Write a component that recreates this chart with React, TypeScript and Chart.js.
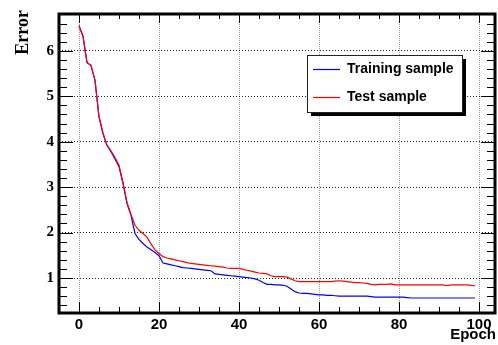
import React, { useEffect, useRef } from "react";
import { Chart, registerables } from "chart.js";

Chart.register(...registerables);

const epochs: number[] = Array.from({ length: 100 }, (_, i) => i);

const trainingError: number[] = [
  6.56, 6.32, 5.74, 5.68, 5.35, 4.55, 4.18, 3.92, 3.78, 3.62,
  3.45, 3.08, 2.64, 2.38, 1.98, 1.85, 1.76, 1.68, 1.62, 1.56,
  1.49, 1.33, 1.31, 1.29, 1.27, 1.25, 1.23, 1.22, 1.21, 1.20,
  1.19, 1.18, 1.17, 1.16, 1.09, 1.08, 1.07, 1.06, 1.05, 1.04,
  1.03, 1.02, 1.01, 1.00, 0.98, 0.95, 0.90, 0.86, 0.86, 0.85,
  0.85, 0.84, 0.82, 0.76, 0.70, 0.67, 0.66, 0.66, 0.65, 0.64,
  0.63, 0.63, 0.62, 0.62, 0.61, 0.60, 0.60, 0.60, 0.60, 0.60,
  0.60, 0.60, 0.60, 0.59, 0.58, 0.58, 0.58, 0.58, 0.58, 0.58,
  0.58, 0.58, 0.57, 0.56, 0.56, 0.56, 0.56, 0.56, 0.56, 0.56,
  0.56, 0.56, 0.56, 0.56, 0.56, 0.56, 0.56, 0.56, 0.56, 0.56,
];

const testError: number[] = [
  6.54, 6.32, 5.74, 5.68, 5.35, 4.55, 4.18, 3.92, 3.80, 3.65,
  3.48, 3.10, 2.66, 2.40, 2.16, 2.05, 1.98, 1.90, 1.75, 1.62,
  1.54, 1.47, 1.44, 1.42, 1.40, 1.38, 1.36, 1.34, 1.32, 1.31,
  1.30, 1.29, 1.28, 1.27, 1.26, 1.25, 1.24, 1.22, 1.21, 1.21,
  1.21, 1.19, 1.17, 1.15, 1.13, 1.11, 1.10, 1.09, 1.05, 1.03,
  1.03, 1.03, 1.02, 0.98, 0.94, 0.92, 0.92, 0.92, 0.92, 0.92,
  0.92, 0.92, 0.92, 0.92, 0.93, 0.94, 0.93, 0.92, 0.91, 0.90,
  0.90, 0.89, 0.88, 0.86, 0.85, 0.86, 0.86, 0.86, 0.87, 0.85,
  0.85, 0.85, 0.85, 0.85, 0.85, 0.85, 0.85, 0.85, 0.85, 0.85,
  0.85, 0.85, 0.83, 0.85, 0.85, 0.85, 0.85, 0.85, 0.84, 0.83,
];

const xTickLabels: number[] = [0, 20, 40, 60, 80, 100];
const yTickLabels: number[] = [1, 2, 3, 4, 5, 6];
const seriesNames: string[] = ["Training sample", "Test sample"];
const xTitle = "Epoch";
const yTitle = "Error";

const rootStylePlugin = {
  id: "rootStyle",
  afterDraw(chart: any) {
    const { ctx, chartArea, scales } = chart;
    const xs = scales.x;
    const ys = scales.y;
    const { left, right, top, bottom } = chartArea;
    ctx.save();
    ctx.strokeStyle = "#000";
    ctx.lineWidth = 1;
    // x ticks (inward, bottom and top)
    for (let v = 0; v <= 100; v += 5) {
      const px = Math.round(xs.getPixelForValue(v)) + 0.5;
      const major = v % 20 === 0;
      const lb = major ? 11 : 6;
      const lt = major ? 9 : 5;
      ctx.beginPath();
      ctx.moveTo(px, bottom);
      ctx.lineTo(px, bottom - lb);
      ctx.moveTo(px, top);
      ctx.lineTo(px, top + lt);
      ctx.stroke();
    }
    // y ticks (inward, left and right)
    for (let k = 2; k <= 34; k++) {
      const v = k / 5;
      const py = Math.round(ys.getPixelForValue(v)) + 0.5;
      if (py < top || py > bottom) continue;
      const major = k % 5 === 0;
      const l = major ? 14 : 8;
      ctx.beginPath();
      ctx.moveTo(left, py);
      ctx.lineTo(left + l, py);
      ctx.moveTo(right, py);
      ctx.lineTo(right - l, py);
      ctx.stroke();
    }
    // frame
    ctx.lineWidth = 3;
    ctx.strokeRect(left, top, right - left, bottom - top);

    // legend
    const bx = 307, by = 55, bw = 155, bh = 57;
    ctx.fillStyle = "#000";
    ctx.fillRect(bx + 4, by + 4, bw, bh);
    ctx.fillStyle = "#fff";
    ctx.fillRect(bx, by, bw, bh);
    ctx.lineWidth = 1;
    ctx.strokeStyle = "#222";
    ctx.strokeRect(bx + 0.5, by + 0.5, bw, bh);
    const rows = [69, 97];
    chart.data.datasets.forEach((ds: any, i: number) => {
      const y = rows[i] + 0.5;
      ctx.strokeStyle = ds.borderColor;
      ctx.lineWidth = 1.2;
      ctx.beginPath();
      ctx.moveTo(313, y);
      ctx.lineTo(340, y);
      ctx.stroke();
      ctx.fillStyle = "#000";
      ctx.font = 'bold 14px "Liberation Sans", Arial, sans-serif';
      ctx.textAlign = "left";
      ctx.textBaseline = "middle";
      ctx.fillText(ds.label, 347, rows[i] + 0.5);
    });

    // axis titles
    ctx.fillStyle = "#000";
    ctx.font = 'bold 15px "Liberation Sans", Arial, sans-serif';
    ctx.textAlign = "right";
    ctx.textBaseline = "alphabetic";
    ctx.fillText(xTitle, 496, 339);

    ctx.save();
    ctx.translate(28, 10);
    ctx.rotate(-Math.PI / 2);
    ctx.font = 'bold 18px "Liberation Serif", "Times New Roman", serif';
    ctx.textAlign = "right";
    ctx.textBaseline = "alphabetic";
    ctx.fillText(yTitle, 0, 0);
    ctx.restore();

    ctx.restore();
  },
};

export default function App() {
  const canvasRef = useRef<HTMLCanvasElement | null>(null);

  useEffect(() => {
    const canvas = canvasRef.current;
    if (!canvas) return;
    const chart = new Chart(canvas, {
      type: "line",
      data: {
        datasets: [
          {
            label: seriesNames[0],
            data: epochs.map((e, i) => ({ x: e, y: trainingError[i] })),
            borderColor: "#0000ff",
            borderWidth: 1.2,
            pointRadius: 0,
            tension: 0,
            fill: false,
            order: 1,
          },
          {
            label: seriesNames[1],
            data: epochs.map((e, i) => ({ x: e, y: testError[i] })),
            borderColor: "#ff0000",
            borderWidth: 1.2,
            pointRadius: 0,
            tension: 0,
            fill: false,
            order: 0,
          },
        ],
      },
      plugins: [rootStylePlugin],
      options: {
        animation: false,
        responsive: false,
        maintainAspectRatio: false,
        layout: { padding: { top: 11, right: 3, left: 0, bottom: 0 } },
        plugins: {
          legend: { display: false },
          tooltip: { enabled: false },
        },
        scales: {
          x: {
            type: "linear",
            min: -5,
            max: 104,
            afterBuildTicks: (scale: any) => {
              scale.ticks = xTickLabels.map((v) => ({ value: v }));
            },
            afterFit: (scale: any) => {
              scale.height = 32;
            },
            ticks: {
              color: "#000",
              padding: 3,
              maxRotation: 0,
              autoSkip: false,
              font: { family: '"Liberation Sans", Arial, sans-serif', size: 15, weight: "bold" },
            },
            grid: {
              drawTicks: false,
              color: "#999",
              lineWidth: 1,
            },
            border: { display: false, dash: [1, 1] },
          },
          y: {
            type: "linear",
            min: 0.23,
            max: 6.81,
            afterBuildTicks: (scale: any) => {
              scale.ticks = yTickLabels.map((v) => ({ value: v }));
            },
            afterFit: (scale: any) => {
              scale.width = 59;
            },
            ticks: {
              color: "#000",
              padding: 5,
              autoSkip: false,
              font: { family: '"Liberation Serif", "Times New Roman", serif', size: 15, weight: "bold" },
            },
            grid: {
              drawTicks: false,
              color: "#222",
              lineWidth: 1,
            },
            border: { display: false, dash: [1, 2] },
          },
        },
      },
    });
    return () => chart.destroy();
  }, []);

  return (
    <div style={{ position: "fixed", left: 0, top: 0, width: 498, height: 345, background: "#fff" }}>
      <canvas ref={canvasRef} width={498} height={345} style={{ display: "block" }} />
    </div>
  );
}
